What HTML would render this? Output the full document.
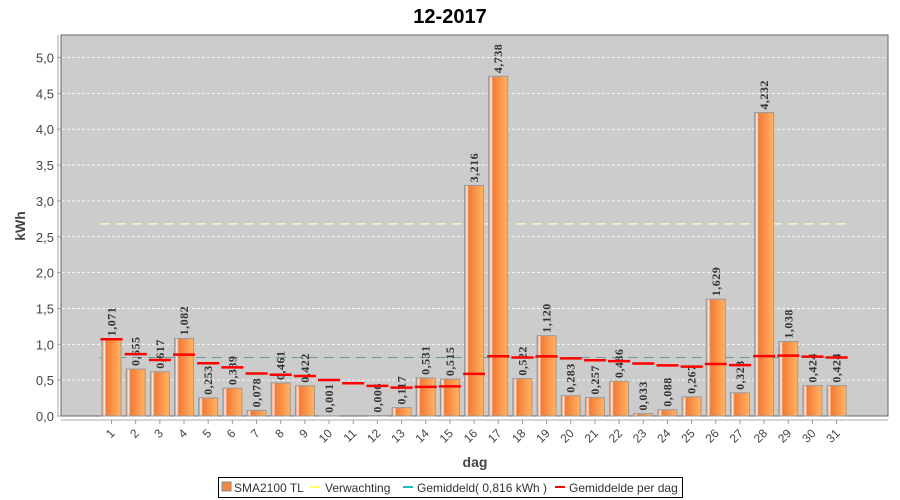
<!DOCTYPE html>
<html><head><meta charset="utf-8"><style>
body{margin:0;background:#fff;}
svg{display:block;font-family:"Liberation Sans",sans-serif;}
</style></head><body>
<svg id="s" width="900" height="500" xmlns="http://www.w3.org/2000/svg">
<defs>
<linearGradient id="g" x1="0" x2="1" y1="0" y2="0">
<stop offset="0" stop-color="#f26a2a"/>
<stop offset="0.12" stop-color="#fff4e8"/>
<stop offset="0.22" stop-color="#f47a35"/>
<stop offset="1" stop-color="#ffb565"/>
</linearGradient>
</defs>
<text x="450" y="23" text-anchor="middle" font-size="20" font-weight="bold">12-2017</text>
<rect x="61" y="35" width="827" height="381" fill="#cccccc" stroke="#666" stroke-width="1"/>
<g id="c"></g>
</svg>
<script>
const V=[1.071,0.655,0.617,1.082,0.253,0.389,0.078,0.461,0.422,0.001,0,0.006,0.117,0.531,0.515,3.216,4.738,0.522,1.120,0.283,0.257,0.486,0.033,0.088,0.267,1.629,0.323,4.232,1.038,0.424,0.424];
const y0=416,k=71.7;const Y=v=>y0-v*k;const X=i=>111.5+i*24.17;
let h='';
for(let t=0;t<=10;t++){const v=t*0.5,y=Y(v);
 if(t>0)h+=`<line x1="62" x2="887" y1="${y}" y2="${y}" stroke="#fff" stroke-dasharray="3,2" stroke-width="0.8"/>`;
 h+=`<line x1="57" x2="61" y1="${y}" y2="${y}" stroke="#999"/>`;
 h+=`<text x="54" y="${y+5}" text-anchor="end" font-size="13" fill="#444">${v.toFixed(1).replace('.',',')}</text>`;}
h+=`<line x1="58" x2="58" y1="35" y2="416" stroke="#aaa"/><line x1="61" x2="888" y1="420" y2="420" stroke="#aaa"/>`;
h+=`<line x1="100" x2="850" y1="${Y(2.68)}" y2="${Y(2.68)}" stroke="#f2f2c8" stroke-width="1.5" stroke-dasharray="10,6"/>`;
h+=`<line x1="100" x2="850" y1="${Y(0.816)}" y2="${Y(0.816)}" stroke="#6a9a9a" stroke-width="1" stroke-dasharray="10,6"/>`;
let s=0;
V.forEach((v,i)=>{const x=X(i);s+=v;const a=s/(i+1);
 if(v>0)h+=`<rect x="${x-9.5}" y="${Y(v)}" width="19" height="${v*k}" fill="url(#g)" stroke="#999" stroke-width="1"/>`;
 h+=`<line x1="${x}" x2="${x}" y1="420" y2="424" stroke="#999"/>`;
 h+=`<text transform="translate(${x+4},${434}) rotate(-45)" text-anchor="end" font-size="12" fill="#444">${i+1}</text>`;
 if(v>0)h+=`<text transform="translate(${x+4},${Y(v)-3}) rotate(-90)" font-size="12" font-weight="bold" letter-spacing="0.5" font-family="Liberation Serif,serif" fill="#333">${v.toFixed(3).replace('.',',')}</text>`;
 h+=`<line x1="${x-11}" x2="${x+11}" y1="${Y(a)}" y2="${Y(a)}" stroke="#f00" stroke-width="2.5"/>`;
});
h+=`<text transform="translate(25,226) rotate(-90)" text-anchor="middle" font-size="14" font-weight="bold" fill="#444">kWh</text>`;
h+=`<text x="475" y="467" text-anchor="middle" font-size="14" font-weight="bold" fill="#444">dag</text>`;
h+=`<rect x="218.5" y="477.5" width="464" height="20" fill="#fff" stroke="#000"/>`;
h+=`<rect x="222" y="482" width="9" height="9" fill="#f58840" stroke="#888"/><text x="234" y="492" font-size="12" fill="#333">SMA2100 TL</text>`;
h+=`<line x1="310" x2="320" y1="487" y2="487" stroke="#ffff60" stroke-width="2"/><text x="325" y="492" font-size="12" fill="#333">Verwachting</text>`;
h+=`<line x1="403" x2="413" y1="487" y2="487" stroke="#20c0c0" stroke-width="2"/><text x="417" y="492" font-size="12" fill="#333">Gemiddeld( 0,816 kWh )</text>`;
h+=`<line x1="555" x2="565" y1="487" y2="487" stroke="#f00" stroke-width="2"/><text x="569" y="492" font-size="12" fill="#333">Gemiddelde per dag</text>`;
document.getElementById('c').innerHTML=h;
</script>
</body></html>
